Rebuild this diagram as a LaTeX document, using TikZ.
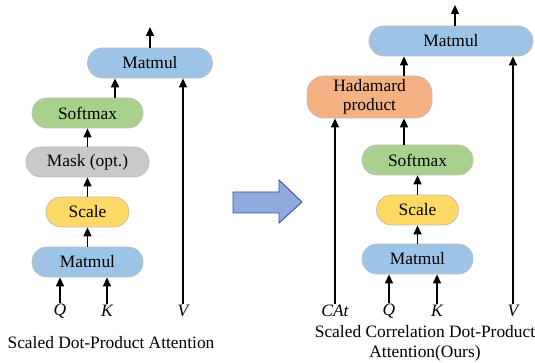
\documentclass[tikz,border=0pt]{standalone}
\usepackage{fontspec}
\setmainfont{Liberation Serif}
\usetikzlibrary{arrows.meta}
\definecolor{mmblue}{HTML}{9DC3E6}
\definecolor{smgreen}{HTML}{A9D18E}
\definecolor{mkgray}{HTML}{C9C9C9}
\definecolor{scyellow}{HTML}{FFD966}
\definecolor{hdorange}{HTML}{F4B183}
\definecolor{edgegray}{HTML}{BFBFBF}
\definecolor{bigfill}{HTML}{8FAADC}
\definecolor{bigedge}{HTML}{2F5597}
\tikzset{
  opbox/.style={draw=edgegray, line width=0.8pt, rounded corners=15pt,
    minimum height=30pt, inner sep=0pt, align=center,
    font=\fontsize{17.4}{19.5}\selectfont},
  inlabel/.style={inner sep=1pt, font=\fontsize{17.4}{19}\selectfont\itshape},
  caption/.style={inner sep=0pt, align=center, font=\fontsize{17.4}{20}\selectfont},
  arr/.style={line width=1.3pt, -{Triangle[width=8pt,length=9pt]}},
}
\begin{document}
\begin{tikzpicture}[x=1pt,y=-1pt]
\useasboundingbox (0,0) rectangle (535,363);

% ---- standard scaled dot-product attention ----
\node[opbox, fill=mmblue, minimum width=125pt] (lmm2) at (150,63) {Matmul};
\node[opbox, fill=smgreen, minimum width=111pt] (lsm) at (87.5,113) {Softmax};
\node[opbox, fill=mkgray, minimum width=123pt] (lmk) at (87.5,162) {Mask (opt.)};
\node[opbox, fill=scyellow, minimum width=83pt] (lsc) at (87.5,212) {Scale};
\node[opbox, fill=mmblue, minimum width=111pt] (lmm1) at (87.5,262) {Matmul};

\node[inlabel] (lq) at (60,311) {Q};
\node[inlabel] (lk) at (107,311) {K};
\node[inlabel] (lv) at (183,311) {V};
\coordinate (lout) at (150,27);

\draw[arr] (lq.north) -- (lq.north |- lmm1.south);
\draw[arr] (lk.north) -- (lk.north |- lmm1.south);
\draw[arr] (lv.north) -- (lv.north |- lmm2.south);
\draw[arr] (lmm1) -- (lsc);
\draw[arr] (lsc) -- (lmk);
\draw[arr] (lmk) -- (lsm);
\draw[arr] (lsm.north -| 115,0) -- (lmm2.south -| 115,0);
\draw[arr] (lmm2) -- (lout);

\node[caption] (lcap) at (111,343) {Scaled Dot-Product Attention};

% ---- transition arrow ----
\draw[bigedge, fill=bigfill, line width=0.9pt]
  (233,192) -- (279,192) -- (279,180) -- (302,202) -- (279,223)
  -- (279,213) -- (233,213) -- cycle;

% ---- scaled correlation dot-product attention ----
\node[opbox, fill=mmblue, minimum width=164pt] (rmm2) at (451,41) {Matmul};
\node[opbox, fill=hdorange, minimum width=125pt, minimum height=42pt,
      rounded corners=17pt] (rhd) at (369.5,97) {Hadamard\\product};
\node[opbox, fill=smgreen, minimum width=111pt] (rsm) at (417.5,160) {Softmax};
\node[opbox, fill=scyellow, minimum width=82pt] (rsc) at (417.5,210) {Scale};
\node[opbox, fill=mmblue, minimum width=111pt] (rmm1) at (417.5,259) {Matmul};

\node[inlabel] (rca) at (335,311) {CAt};
\node[inlabel] (rq) at (389,311) {Q};
\node[inlabel] (rk) at (437,311) {K};
\node[inlabel] (rv) at (513,311) {V};
\coordinate (rout) at (455,5);

\draw[arr] (rq.north) -- (rq.north |- rmm1.south);
\draw[arr] (rk.north) -- (rk.north |- rmm1.south);
\draw[arr] (rca.north) -- (rca.north |- rhd.south);
\draw[arr] (rv.north) -- (rv.north |- rmm2.south);
\draw[arr] (rmm1) -- (rsc);
\draw[arr] (rsc) -- (rsm);
\draw[arr] (rsm.north -| 404,0) -- (rhd.south -| 404,0);
\draw[arr] (rhd.north -| 404,0) -- (rmm2.south -| 404,0);
\draw[arr] (rmm2.north -| rout) -- (rout);

\node[caption] (rcap) at (425,343) {Scaled Correlation Dot-Product\\Attention(Ours)};
\end{tikzpicture}
\end{document}
